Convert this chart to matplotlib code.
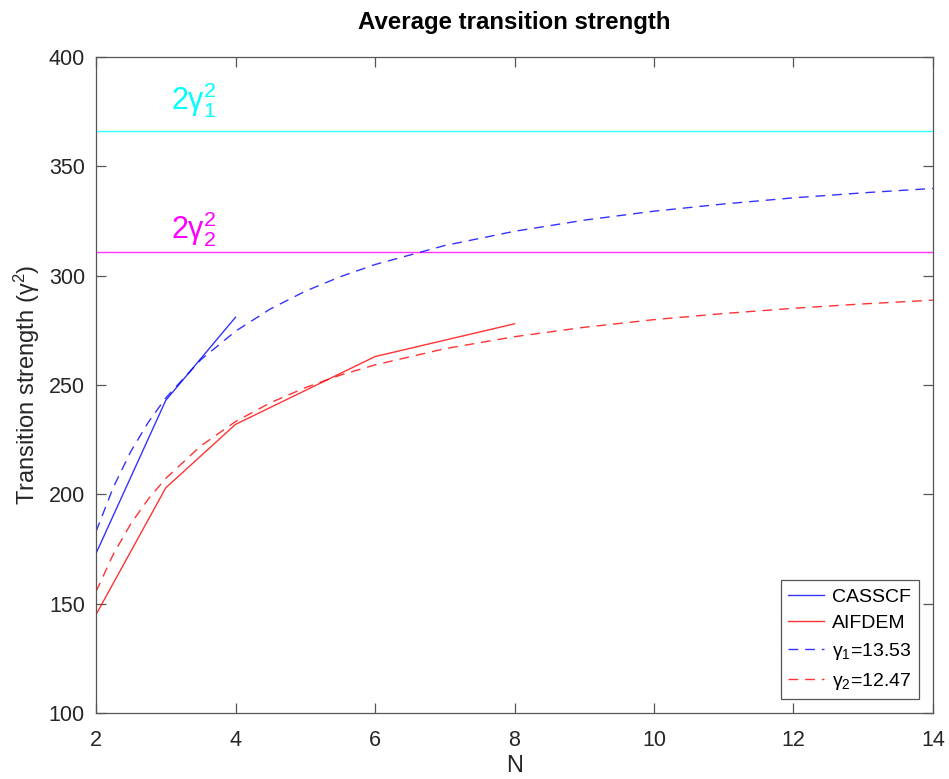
import numpy as np
import matplotlib
matplotlib.use("Agg")
import matplotlib.pyplot as plt

# fonts: helvetica-like text, upright greek in math
plt.rcParams['font.family'] = ['Liberation Sans', 'DejaVu Sans']
plt.rcParams['mathtext.fontset'] = 'custom'
plt.rcParams['mathtext.rm'] = 'Liberation Sans'
plt.rcParams['mathtext.it'] = 'Liberation Sans'
plt.rcParams['mathtext.bf'] = 'Liberation Sans:bold'

# computed data
n_casscf = [2, 3, 4]
s_casscf = [173, 243, 281]
n_aifdem = [2, 3, 4, 6, 8]
s_aifdem = [145, 203, 232, 263, 278]

# fitted curves
n_fit = [2, 2.25, 2.5, 2.75, 3, 3.5, 4, 4.5, 5, 5.5, 6, 7, 8, 9, 10, 11, 12, 13, 14]
s_fit1 = [183.0, 203.4, 219.7, 233.0, 244.1, 261.5, 274.6, 284.8, 292.9, 299.5,
          305.1, 313.8, 320.3, 325.4, 329.5, 332.8, 335.6, 337.9, 339.9]
s_fit2 = [155.5, 172.8, 186.6, 197.9, 207.3, 222.1, 233.3, 241.9, 248.8, 254.5,
          259.2, 266.6, 272.1, 276.4, 279.9, 282.7, 285.1, 287.1, 288.8]

# limits 2*gamma^2
limit1 = 366.1
limit2 = 311.0

fig = plt.figure(figsize=(9.49, 7.79), dpi=100)
ax = fig.add_axes([0.1012, 0.0847, 0.8819, 0.8421])

lw = 1.0
al = 0.8
dash = (0, (7, 5))
ax.axhline(limit1, color='#00ffff', lw=lw, alpha=al)
ax.axhline(limit2, color='#ff00ff', lw=lw, alpha=al)
ax.plot(n_casscf, s_casscf, color='#0000ff', lw=lw, alpha=al, label='CASSCF')
ax.plot(n_aifdem, s_aifdem, color='#ff0000', lw=lw, alpha=al, label='AIFDEM')
ax.plot(n_fit, s_fit1, color='#0000ff', lw=lw, alpha=al, ls=dash,
        label=r'$\mathrm{\gamma}_1$=13.53')
ax.plot(n_fit, s_fit2, color='#ff0000', lw=lw, alpha=al, ls=dash,
        label=r'$\mathrm{\gamma}_2$=12.47')

ax.text(3.08, 376, r'$2\mathrm{\gamma}_1^2$', color='#00ffff', fontsize=22)
ax.text(3.08, 317, r'$2\mathrm{\gamma}_2^2$', color='#ff00ff', fontsize=22)

ax.set_xlim(2, 14)
ax.set_ylim(100, 400)
ax.set_xticks(np.arange(2, 15, 2))
ax.set_yticks(np.arange(100, 401, 50))

dark = '#262626'
edge = '#555555'
for sp in ax.spines.values():
    sp.set_color(edge)
    sp.set_linewidth(0.9)
ax.tick_params(direction='in', top=True, right=True, length=7, width=0.9,
               color=edge, labelcolor=dark, labelsize=15.5)
ax.tick_params(axis='x', pad=12)
ax.tick_params(axis='y', pad=8)

ax.set_xlabel('N', fontsize=17, color=dark, labelpad=3)
ax.set_ylabel(r'Transition strength ($\mathrm{\gamma}^2$)', fontsize=17, color=dark,
              labelpad=5)
ax.set_title('Average transition strength', fontsize=17.3, fontweight='bold', pad=20)

leg = ax.legend(loc='lower right', fontsize=14, frameon=True, fancybox=False,
                edgecolor=edge, handlelength=1.85, handletextpad=0.4,
                borderaxespad=0.7, labelspacing=0.45)
leg.get_frame().set_linewidth(0.9)
leg.get_frame().set_alpha(None)

fig.savefig('out.png', dpi=100)
